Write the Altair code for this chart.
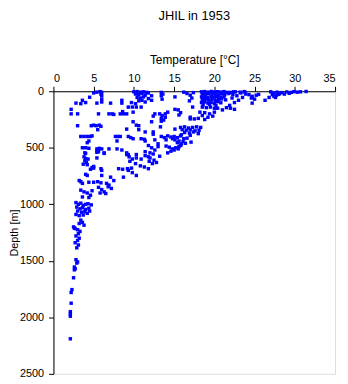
import altair as alt
import pandas as pd

title_text = "JHIL in 1953"
x_title = "Temperature [°C]"
y_title = "Depth [m]"
x_ticks = [0, 5, 10, 15, 20, 25, 30, 35]
y_ticks = [0, 500, 1000, 1500, 2000, 2500]

# Surface layer (0-140 m): (temperature, depth)
surface_pts = [
    (18.4,5),(18.8,3),(19.2,8),(19.6,2),(20.0,6),(20.4,4),(20.8,7),(21.2,3),(21.6,10),
    (18.5,25),(18.9,30),(19.3,22),(19.7,28),(20.1,26),(20.5,32),(20.9,24),(21.3,30),(21.8,20),
    (18.4,50),(18.8,45),(19.2,55),(19.6,48),(20.0,52),(20.4,46),(20.8,55),(21.2,50),
    (18.5,75),(18.9,70),(19.3,78),(19.7,72),(20.1,80),(20.5,74),(20.9,68),(21.4,76),
    (18.4,100),(18.8,95),(19.2,105),(19.6,98),(20.0,110),(20.4,92),(20.8,102),
    (18.6,120),(19.4,115),(20.2,125),
    (22.0,10),(22.3,30),(22.6,5),(22.2,60),(22.8,40),(23.3,15),(23.0,80),(23.5,55),
    (22.5,100),(21.9,125),(23.8,8),(22.4,5),(23.2,8),(23.7,3),
    (16.2,8),(16.6,20),(17.0,35),(17.2,60),(16.9,85),(17.4,12),
    (13.4,10),(13.4,40),(13.5,70),(12.2,80),(15.1,50),(13.6,25),
    (27.0,5),(27.4,15),(27.8,8),(28.1,20),(28.4,12),(28.7,25),(29.0,6),(29.3,18),
    (29.6,10),(29.9,3),(30.3,8),(30.7,5),(31.4,2),(27.2,30),(27.7,35),(28.0,28),
    (27.4,45),(26.8,55),(27.6,55),(26.3,80),(24.3,30),(24.7,45),(25.2,35),(25.5,28),
    (24.6,60),(24.7,105),(25.0,70),(23.9,25),
    (5.0,15),(5.4,8),(5.8,3),(6.0,10),(6.0,40),(6.0,70),(6.0,95),(5.9,25),(4.5,53),
    (3.6,80),(3.4,110),(2.8,105),(4.0,100),(5.4,105),(7.1,105),(8.5,80),(8.5,105),
    (10.0,5),(10.4,3),(10.8,8),(11.2,5),(11.6,10),(10.2,25),(10.6,30),(11.0,20),
    (11.4,35),(11.8,15),(10.4,55),(10.8,60),(11.2,50),(10.6,85),(11.0,80),(11.4,95),
    (10.2,110),(9.7,100),(11.8,65),(12.2,40),
]

# Upper thermocline (140-390 m)
upper_pts = [
    (2.2,160),(2.2,200),(3.0,200),(5.6,200),(6.9,200),(7.3,200),(7.5,205),(8.3,200),
    (8.7,200),(9.1,200),(8.6,180),(9.3,140),(9.8,140),(10.3,140),(10.9,140),(9.9,185),
    (9.9,270),(10.3,300),(3.0,305),(4.7,305),(5.0,300),(5.3,305),(5.7,300),(5.9,310),
    (5.5,340),(9.1,335),(10.6,340),(11.4,360),(10.6,305),(12.4,220),(12.6,200),
    (13.2,200),(13.9,200),(13.4,265),
    (17.3,140),(18.5,140),(19.0,145),(19.5,140),(20.0,150),(20.4,150),(21.0,165),
    (21.5,145),(22.0,150),(22.5,160),(18.2,185),(18.8,190),(19.4,200),(20.0,185),
    (18.5,215),(19.2,230),(19.8,220),(18.8,250),(17.5,245),(17.0,245),(18.0,240),
    (17.0,230),(15.5,165),(15.8,190),(15.6,210),(15.1,160),(14.2,185),(13.5,215),
    (13.9,230),(13.4,240),(13.7,255),(12.2,270),(13.3,315),(15.1,335),
    (15.8,320),(16.3,315),(16.8,325),(17.3,320),(17.8,315),(18.3,320),(16.0,340),
    (16.5,345),(17.0,340),(17.6,350),(18.1,345),(16.3,365),(16.9,370),(17.4,360),
    (18.0,375),(15.9,385),(17.0,390),(12.4,380),
]

# Mid depths (390-770 m)
mid_pts = [
    (14.2,395),(14.6,405),(15.0,400),(15.4,410),(15.8,395),(16.2,420),(16.6,415),
    (15.1,430),(15.6,440),(16.1,445),(15.4,455),(15.9,465),(16.4,460),(17.1,450),
    (14.8,420),(15.8,475),(12.4,360),(13.4,400),(13.8,410),(14.0,430),(12.6,430),
    (11.8,480),(12.2,500),(12.6,520),(12.0,545),(13.0,490),(12.4,555),(13.0,465),
    (14.0,485),(14.4,495),(14.8,510),(15.2,500),(15.6,490),(14.6,530),(15.0,520),
    (14.2,545),(15.8,480),(15.5,510),
    (12.0,590),(12.5,610),(12.8,630),(11.9,620),(13.2,575),(12.3,640),(11.4,570),
    (3.4,400),(3.8,400),(4.2,400),(4.6,400),(4.8,395),(4.4,440),(4.2,455),(7.7,400),
    (8.0,400),(8.3,400),(7.9,440),(9.3,400),(9.6,410),(9.9,420),(10.9,420),(11.3,425),
    (11.4,440),(3.6,500),(4.0,500),(4.4,505),(3.9,545),(5.4,510),(5.7,505),(6.0,510),
    (5.6,535),(5.4,525),(6.3,545),(6.9,510),(7.9,510),(8.5,520),(9.1,545),(9.3,560),
    (10.3,560),(11.4,535),
    (3.8,580),(4.0,595),(4.3,600),(3.9,615),(4.1,630),(3.7,645),(4.2,650),(4.0,550),
    (5.4,540),(5.4,590),(6.3,550),(4.8,675),(4.6,690),(5.0,680),(5.0,665),(5.9,685),
    (6.0,700),(6.0,745),(4.0,735),(4.2,745),(8.1,685),(8.6,690),(9.2,685),(9.7,680),
    (9.1,560),(9.4,580),(9.8,600),(10.2,640),(9.5,620),(10.3,590),(10.9,600),
    (11.8,580),(9.3,700),(9.8,720),(10.3,745),(10.8,660),(11.3,670),(11.8,685),
    (8.7,760),
]

# Lower thermocline (770-1200 m)
lower_pts = [
    (3.2,790),(3.4,800),(3.6,815),(4.4,805),(5.0,805),(5.5,800),(5.9,810),(7.1,760),
    (7.5,790),(6.6,815),(6.9,830),(7.2,860),(6.8,845),(5.6,850),(6.0,870),(6.3,890),
    (6.5,905),(5.8,900),(3.4,875),(3.8,890),(4.2,900),(4.6,920),(3.6,935),(4.4,940),
    (4.8,880),
    (2.8,985),(3.1,1000),(3.4,990),(3.7,1010),(4.0,1000),(4.3,995),(4.7,1005),
    (2.9,1025),(3.3,1040),(3.6,1030),(4.0,1045),(4.4,1035),(3.0,1060),(3.5,1070),
    (3.9,1065),(4.2,1080),(2.8,1090),(3.2,1100),(3.7,1095),(4.5,1060),
    (3.4,1140),(3.6,1160),(3.8,1185),(2.6,1210),(3.2,1170),
]

# Deep water (>1200 m)
deep_pts = [
    (2.5,1200),(2.7,1215),(3.0,1225),(3.3,1240),(3.1,1260),(2.8,1280),(3.2,1300),
    (3.0,1320),(2.7,1340),(3.1,1360),(2.9,1385),(2.8,1490),(3.0,1510),(2.9,1520),
    (2.6,1555),(2.7,1570),(2.6,1580),(2.5,1650),(2.3,1755),(2.2,1780),(2.2,1875),
    (2.1,1950),(2.1,1970),(2.1,1990),(2.1,2190),
]

rows = []
for group in (surface_pts, upper_pts, mid_pts, lower_pts, deep_pts):
    for t, d in group:
        rows.append({"temperature": t, "depth": d})
df = pd.DataFrame(rows)

FONT = "Liberation Sans"

chart = alt.Chart(df).mark_square(size=12, color="#0000FF", opacity=1, strokeWidth=0).encode(
    x=alt.X("temperature:Q",
            scale=alt.Scale(domain=[0, 35], nice=False, zero=False),
            axis=alt.Axis(orient="top", title=x_title, values=x_ticks, grid=False,
                          format="d",
                          domainColor="black", tickColor="black", tickSize=5,
                          labelFontSize=11, labelFont=FONT, labelColor="black",
                          labelPadding=3, titleFont=FONT, titleFontSize=12,
                          titleFontWeight="normal", titleColor="black", titlePadding=6)),
    y=alt.Y("depth:Q",
            scale=alt.Scale(domain=[0, 2500], reverse=True, nice=False),
            axis=alt.Axis(orient="left", title=y_title, values=y_ticks, grid=False,
                          format="d",
                          domainColor="black", tickColor="black", tickSize=5,
                          labelFontSize=11, labelFont=FONT, labelColor="black",
                          labelPadding=5, titleFont=FONT, titleFontSize=11,
                          titleFontWeight="normal", titleColor="black",
                          titleX=-39, titleY=143, titleBaseline="middle",
                          titleAlign="center")),
).properties(
    width=285,
    height=286,
    title=alt.Title(title_text, font=FONT, fontSize=13, fontWeight="normal",
                    color="black", anchor="middle", offset=31),
    autosize="none",
    padding={"left": 46, "top": 82, "right": 5, "bottom": 6},
).configure_view(stroke=None).configure(background="white")

chart.save("out.html", embed_options={"renderer": "svg", "actions": False})
